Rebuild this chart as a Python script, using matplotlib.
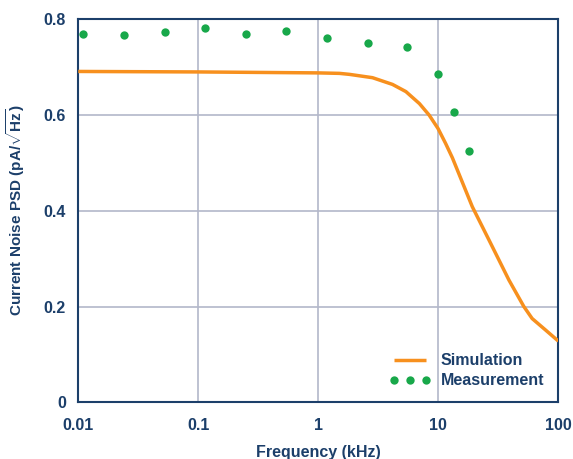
import numpy as np
import matplotlib
matplotlib.use("Agg")
import matplotlib.pyplot as plt

# data
sim_freq = [0.01, 0.1, 1.0, 1.5, 1.81, 2.83, 4.15, 5.37, 6.96, 8.39, 9.95, 11.5,
            13.1, 19.2, 26.4, 38.8, 51.6, 60.5, 78.3, 100.0]
sim_psd = [0.690, 0.689, 0.687, 0.686, 0.684, 0.677, 0.663, 0.648, 0.623, 0.599, 0.571, 0.540,
           0.510, 0.408, 0.339, 0.255, 0.200, 0.175, 0.151, 0.128]

meas_freq = [0.0109, 0.0240, 0.0529, 0.1146, 0.249, 0.543, 1.18, 2.59, 5.50, 9.91, 13.4, 18.0]
meas_psd = [0.768, 0.766, 0.773, 0.780, 0.768, 0.775, 0.759, 0.750, 0.741, 0.684, 0.605, 0.525]

xticks = [0.01, 0.1, 1, 10, 100]
xtick_labels = ["0.01", "0.1", "1", "10", "100"]
yticks = [0, 0.2, 0.4, 0.6, 0.8]
ytick_labels = ["0", "0.2", "0.4", "0.6", "0.8"]

NAVY = "#1c3f6a"
ORANGE = "#f7901e"
GREEN = "#18a84a"
GRID = "#b3b7ca"

plt.rcParams['font.family'] = ['Liberation Sans', 'DejaVu Sans']
plt.rcParams['font.weight'] = 'bold'
plt.rcParams['axes.labelweight'] = 'bold'
plt.rcParams['mathtext.fontset'] = 'custom'
plt.rcParams['mathtext.rm'] = 'Liberation Sans:bold'
plt.rcParams['mathtext.it'] = 'Liberation Sans:bold'
plt.rcParams['mathtext.bf'] = 'Liberation Sans:bold'

fig = plt.figure(figsize=(5.73, 4.59), dpi=100)
ax = fig.add_axes([0.1366, 0.1231, 0.8378, 0.8362])

ax.plot(sim_freq, sim_psd, color=ORANGE, lw=2.5, label="Simulation", zorder=3,
        solid_capstyle='butt', solid_joinstyle='round')
ax.plot(meas_freq, meas_psd, ls='none', marker='o', ms=6, color=GREEN, mec='none',
        label="Measurement", zorder=4)

ax.set_xscale('log')
ax.set_xlim(0.01, 100)
ax.set_ylim(0, 0.8)
ax.set_xticks(xticks)
ax.set_xticklabels(xtick_labels)
ax.set_yticks(yticks)
ax.set_yticklabels(ytick_labels)
ax.minorticks_off()
ax.tick_params(length=0, labelsize=11.5, colors=NAVY, pad=9)
ax.tick_params(axis='x', pad=11)

ax.grid(True, color=GRID, lw=1.2)
ax.set_axisbelow(True)
for s in ax.spines.values():
    s.set_color(NAVY)
    s.set_linewidth(1.5)

ax.set_xlabel("Frequency (kHz)", fontsize=11.5, color=NAVY, labelpad=9)
ax.set_ylabel(r"Current Noise PSD (pA/$\sqrt{\mathrm{Hz}}$)", fontsize=11, color=NAVY, labelpad=12)

leg = ax.legend(loc='lower right', frameon=False, numpoints=3, fontsize=11.5,
                handlelength=2.6, handletextpad=0.6, labelspacing=0.3,
                bbox_to_anchor=(1.0, 0.0))
for t in leg.get_texts():
    t.set_color(NAVY)

fig.savefig("out.png", dpi=100)
